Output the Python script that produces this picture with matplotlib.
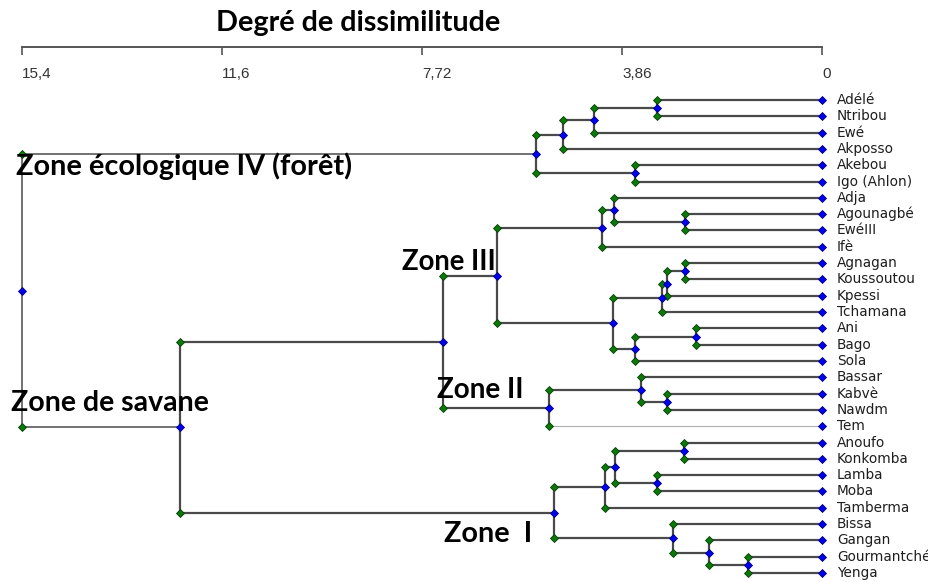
import matplotlib
matplotlib.use("Agg")
import matplotlib.pyplot as plt

# leaves of the dendrogram, top to bottom
leaves = ["Adélé", "Ntribou", "Ewé", "Akposso", "Akebou", "Igo (Ahlon)",
          "Adja", "Agounagbé", "EwéIII", "Ifè", "Agnagan", "Koussoutou",
          "Kpessi", "Tchamana", "Ani", "Bago", "Sola", "Bassar", "Kabvè",
          "Nawdm", "Tem", "Anoufo", "Konkomba", "Lamba", "Moba", "Tamberma",
          "Bissa", "Gangan", "Gourmantché", "Yenga"]

# merge k creates node 30+k from left_child[k] and right_child[k]
left_child = [0, 30, 31, 4, 32, 7, 6, 36, 10, 38, 39, 14, 41, 40, 37,
              18, 17, 46, 44, 21, 23, 49, 51, 28, 27, 26, 52, 48, 34]
right_child = [1, 2, 3, 5, 33, 8, 35, 9, 11, 12, 13, 15, 16, 42, 43,
               19, 45, 20, 47, 22, 24, 50, 25, 29, 53, 54, 55, 56, 57]
# dissimilarity at which each merge happens
heights = [3.18, 4.41, 5.00, 3.60, 5.52, 2.64, 4.02, 4.25, 2.64, 3.00,
           3.08, 2.44, 3.60, 4.04, 6.28, 3.00, 3.50, 5.27, 7.32, 2.66,
           3.18, 4.00, 4.18, 1.42, 2.19, 2.87, 5.18, 12.40, 15.44]

tick_values = [15.44, 11.58, 7.72, 3.86, 0]
tick_labels = ["15,4", "11,6", "7,72", "3,86", "0"]

W, H = 929, 582
fig = plt.figure(figsize=(W / 100, H / 100), dpi=100)
# top spine of this axes is the scale bar
ax = fig.add_axes([22 / W, 0, 800 / W, (H - 47) / H])
ax.set_xlim(15.44, 0)
ax.set_ylim(29.55, -3.25)

LINE = "#4a4a4a"
GREEN = "#0a780a"
BLUE = "#0000f0"

n = len(leaves)
xpos = {i: 0.0 for i in range(n)}
ypos = {i: float(i) for i in range(n)}

greens = []
blues = [(0.0, i) for i in range(n)]
for k, (a, b, h) in enumerate(zip(left_child, right_child, heights)):
    node = n + k
    ypos[node] = (ypos[a] + ypos[b]) / 2
    xpos[node] = h
    lw = 1.1 if node == n + len(heights) - 1 else 1.6
    ax.plot([h, h], [ypos[a], ypos[b]], color=LINE, lw=lw, clip_on=False, zorder=1)
    for c in (a, b):
        if c == 20:   # the Tem branch is drawn thin and pale
            ax.plot([h, xpos[c]], [ypos[c], ypos[c]], color="#b0b0b0", lw=0.8,
                    clip_on=False, zorder=1)
        else:
            clw = 1.1 if c == n + len(heights) - 2 else lw
            ax.plot([h, xpos[c]], [ypos[c], ypos[c]], color=LINE, lw=clw,
                    clip_on=False, zorder=1)
        greens.append((h, ypos[c]))
    blues.append((h, ypos[node]))

ax.plot([p[0] for p in greens], [p[1] for p in greens], ls="none", marker="D",
        ms=3.8, mfc=GREEN, mec="#054005", mew=0.6, clip_on=False, zorder=3)
ax.plot([p[0] for p in blues], [p[1] for p in blues], ls="none", marker="D",
        ms=3.8, mfc=BLUE, mec="#000080", mew=0.6, clip_on=False, zorder=4)

for i, name in enumerate(leaves):
    ax.text(-0.29, i, name, va="center", ha="left", fontsize=9.8,
            family="DejaVu Sans", color="#1e1e1e")

# scale bar on top
for s in ("left", "right", "bottom"):
    ax.spines[s].set_visible(False)
ax.spines["top"].set_color("#555555")
ax.spines["top"].set_linewidth(1.4)
ax.set_yticks([])
ax.set_xticks(tick_values)
ax.set_xticklabels(tick_labels)
ax.tick_params(axis="x", bottom=False, labelbottom=False, top=True, labeltop=True,
               direction="in", length=5.5, width=1.2, color="#555555",
               pad=-24.5, labelsize=11, labelcolor="#333333")
for lab in ax.get_xticklabels():
    lab.set_ha("left")
    lab.set_family("Liberation Sans")

renderer = fig.canvas.get_renderer()


def bold_text(x_px, y_px, s, width_px, size=16):
    t = fig.text(x_px / W, 1 - y_px / H, s, fontsize=size, fontweight="bold",
                 family="Lato", ha="left", va="baseline", color="black", zorder=6)
    w = t.get_window_extent(renderer).width
    t.set_fontsize(size * width_px / w)
    return t


bold_text(216, 31, "Degré de dissimilitude", 287)
bold_text(16, 175, "Zone écologique IV (forêt)", 336)
bold_text(402, 270, "Zone III", 94)
bold_text(437, 398, "Zone II", 87)
bold_text(11, 411, "Zone de savane", 199)
bold_text(444, 542, "Zone  I", 88)

fig.savefig("out.png", dpi=100, facecolor="white")
